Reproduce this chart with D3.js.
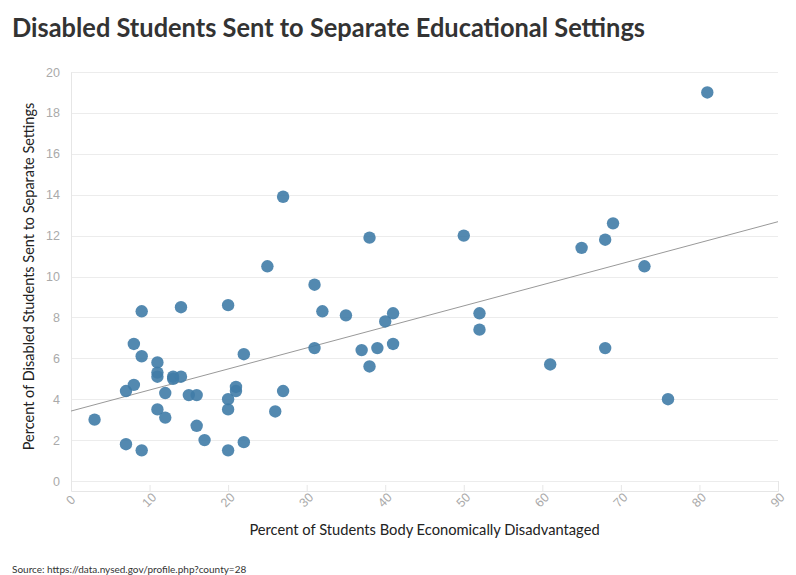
<!DOCTYPE html>
<html>
<head>
<meta charset="utf-8">
<script src="https://cdn.jsdelivr.net/npm/d3@7"></script>
<style>
  html, body { margin: 0; padding: 0; background: #fff; }
  svg { display: block; font-family: "Lato", "Open Sans", sans-serif; }
</style>
</head>
<body>
<svg id="chart" width="796" height="575"></svg>
<script>
// ---- data ----
const econDisadvantaged = [3, 7, 7, 8, 8, 9, 9, 9, 11, 11, 11, 11, 12, 12, 13, 13, 14, 14, 15, 16, 16, 17,
  20, 20, 20, 20, 21, 21, 22, 22, 25, 26, 27, 27, 31, 31, 32, 35, 37, 38, 38, 39, 40, 41, 41,
  50, 52, 52, 61, 65, 68, 68, 69, 73, 76, 81];
const separateSettings = [3.0, 1.8, 4.4, 6.7, 4.7, 1.5, 8.3, 6.1, 5.8, 5.3, 5.1, 3.5, 4.3, 3.1, 5.0, 5.1, 5.1, 8.5, 4.2, 4.2, 2.7, 2.0,
  8.6, 4.0, 3.5, 1.5, 4.6, 4.4, 6.2, 1.9, 10.5, 3.4, 13.9, 4.4, 9.6, 6.5, 8.3, 8.1, 6.4, 11.9, 5.6, 6.5, 7.8, 8.2, 6.7,
  12.0, 8.2, 7.4, 5.7, 11.4, 11.8, 6.5, 12.6, 10.5, 4.0, 19.0];
// trend line endpoints (x value, y value)
const trendX = [0, 90];
const trendY = [3.42, 12.68];
const xTicks = [0, 10, 20, 30, 40, 50, 60, 70, 80, 90];
const yTicks = [0, 2, 4, 6, 8, 10, 12, 14, 16, 18, 20];

const titleText = "Disabled Students Sent to Separate Educational Settings";
const xTitle = "Percent of Students Body Economically Disadvantaged";
const yTitle = "Percent of Disabled Students Sent to Separate Settings";
const sourceText = "Source: https://data.nysed.gov/profile.php?county=28";

const points = econDisadvantaged.map((x, i) => ({ x, y: separateSettings[i] }));

// ---- layout ----
const svg = d3.select("#chart");
const margin = { left: 71, top: 72, right: 18, bottom: 94 };
const W = 796, H = 575;
const iw = W - margin.left - margin.right;
const ih = H - margin.top - margin.bottom;

const x = d3.scaleLinear().domain([0, 90]).range([0, iw]);
const y = d3.scaleLinear().domain([0, 20]).range([ih, 0]);

const g = svg.append("g").attr("transform", `translate(${margin.left},${margin.top})`);

// gridlines
g.append("g").selectAll("line").data(yTicks).join("line")
  .attr("x1", 0).attr("x2", iw)
  .attr("y1", d => Math.round(y(d)) + 0.5).attr("y2", d => Math.round(y(d)) + 0.5)
  .attr("stroke", "#ececec").attr("stroke-width", 1);

// y axis
const yAxis = g.append("g")
  .call(d3.axisLeft(y).tickValues(yTicks).tickSize(0).tickPadding(11));
yAxis.select(".domain").attr("stroke", "#e6e6e6");
yAxis.selectAll("text").attr("fill", "#aaaaaa").attr("font-size", 12.5);

// x axis (offset below plot)
const xAxis = g.append("g").attr("transform", `translate(0,${ih + 10})`)
  .call(d3.axisBottom(x).tickValues(xTicks).tickSizeInner(-6).tickSizeOuter(-10).tickPadding(0));
xAxis.select(".domain").attr("stroke", "#e6e6e6");
xAxis.selectAll(".tick line").attr("stroke", "#e6e6e6");
xAxis.selectAll("text")
  .attr("fill", "#aaaaaa").attr("font-size", 12.5)
  .attr("text-anchor", "middle")
  .attr("dy", "0.35em")
  .attr("transform", "translate(-1,9) rotate(-45)");

// trend line
const line = d3.line().x(d => x(d[0])).y(d => y(d[1]));
g.append("path")
  .datum(trendX.map((v, i) => [v, trendY[i]]))
  .attr("d", line)
  .attr("fill", "none").attr("stroke", "#999").attr("stroke-width", 1);

// points
g.append("g").selectAll("circle").data(points).join("circle")
  .attr("cx", d => x(d.x)).attr("cy", d => y(d.y))
  .attr("r", 6.2)
  .attr("fill", "#407ca7").attr("fill-opacity", 0.9);

// titles
svg.append("text")
  .attr("x", 12).attr("y", 37)
  .attr("font-size", 27).attr("font-weight", 700).attr("fill", "#333")
  .attr("textLength", 633).attr("lengthAdjust", "spacingAndGlyphs")
  .text(titleText);

svg.append("text")
  .attr("x", margin.left + iw / 2).attr("y", 535)
  .attr("text-anchor", "middle").attr("font-size", 14.7).attr("fill", "#222")
  .text(xTitle);

svg.append("text")
  .attr("transform", `translate(34,${margin.top + ih / 2}) rotate(-90)`)
  .attr("text-anchor", "middle").attr("font-size", 14.5).attr("fill", "#222")
  .text(yTitle);

svg.append("text")
  .attr("x", 12).attr("y", 573)
  .attr("font-size", 10).attr("fill", "#333")
  .text(sourceText);
</script>
</body>
</html>
